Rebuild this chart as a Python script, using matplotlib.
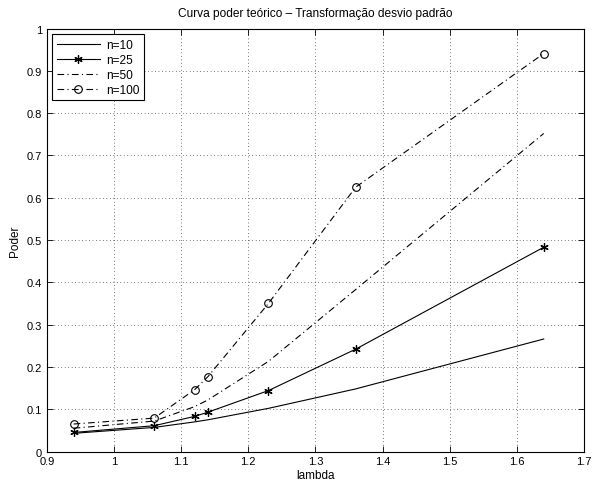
import matplotlib
matplotlib.use("Agg")
import matplotlib.pyplot as plt

# dados
lam = [0.94, 1.06, 1.12, 1.14, 1.23, 1.36, 1.64]
p10 = [0.043, 0.057, 0.070, 0.075, 0.102, 0.148, 0.266]
p25 = [0.045, 0.061, 0.083, 0.093, 0.144, 0.242, 0.483]
p50 = [0.055, 0.072, 0.106, 0.122, 0.213, 0.383, 0.752]
p100 = [0.065, 0.079, 0.146, 0.177, 0.350, 0.625, 0.941]
labels = ['n=10', 'n=25', 'n=50', 'n=100']

plt.rcParams['font.family'] = ['Liberation Sans', 'DejaVu Sans']
plt.rcParams['font.size'] = 8

fig = plt.figure(figsize=(5.92, 4.85), dpi=100)
ax = fig.add_axes([0.079, 0.067, 0.9075, 0.872])

dd = (0, (6, 3, 1, 3))
ax.plot(lam, p10, '-', color='k', lw=0.8, label=labels[0])
ax.plot(lam, p25, '-', color='k', lw=0.8, marker=(6, 2, 0), ms=6, mew=0.9,
        label=labels[1])
ax.plot(lam, p50, linestyle=dd, color='k', lw=0.8, label=labels[2])
ax.plot(lam, p100, linestyle=dd, color='k', lw=0.8, marker='o', ms=5.5,
        mfc='none', mec='k', mew=0.8, label=labels[3])

ax.set_xlim(0.9, 1.7)
ax.set_ylim(0, 1)
ax.set_xticks([0.9, 1.0, 1.1, 1.2, 1.3, 1.4, 1.5, 1.6, 1.7])
ax.set_xticklabels(['0.9', '1', '1.1', '1.2', '1.3', '1.4', '1.5', '1.6', '1.7'])
ax.set_yticks([i / 10 for i in range(11)])
ax.set_yticklabels(['0', '0.1', '0.2', '0.3', '0.4', '0.5', '0.6', '0.7', '0.8', '0.9', '1'])
ax.tick_params(direction='in', top=True, right=True, length=4, width=0.6, labelsize=8)
ax.grid(True, color='k', linestyle=(0, (1, 4)), lw=0.5)
for s in ax.spines.values():
    s.set_linewidth(0.8)

ax.set_title('Curva poder teórico – Transformação desvio padrão', fontsize=8.6, pad=9)
ax.set_xlabel('lambda', fontsize=8.5, labelpad=2)
ax.set_ylabel('Poder', fontsize=8.5, labelpad=4)

leg = ax.legend(loc='upper left', fontsize=8.6, fancybox=False, framealpha=1,
                edgecolor='k', borderaxespad=0.45, handlelength=3.6,
                labelspacing=0.25, handletextpad=0.5, borderpad=0.4)
leg.get_frame().set_linewidth(0.8)

fig.savefig('out.png', dpi=100)
